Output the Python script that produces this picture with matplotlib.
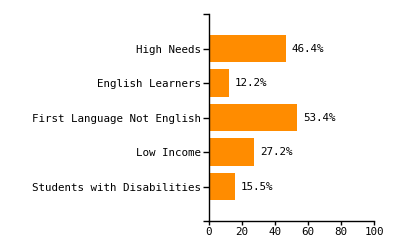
import matplotlib
matplotlib.use("Agg")
import matplotlib.pyplot as plt

categorias = ["High Needs", "English Learners", "First Language Not English",
              "Low Income", "Students with Disabilities"]
valores = [46.4, 12.2, 53.4, 27.2, 15.5]
xticks = [0, 20, 40, 60, 80, 100]

plt.rcParams['font.family'] = ['DejaVu Sans Mono']

fig = plt.figure(figsize=(4, 2.5), dpi=100)
ax = fig.add_axes([0.5225, 0.116, 0.4125, 0.828])

pos = list(range(len(categorias)))
ax.barh(pos, valores, height=0.79, color="#ff8c00")

for p, v in zip(pos, valores):
    ax.text(v + 3.6, p, f"{v}%", va="center", ha="left", fontsize=7.8, color="black")

# ejes estilo d3: ticks extremos sin etiqueta
ax.set_ylim(5, -1)
ax.set_yticks([-1] + pos + [5])
ax.set_yticklabels([""] + categorias + [""], fontsize=7.8)
ax.set_xlim(0, 100)
ax.set_xticks(xticks)
ax.set_xticklabels([str(t) for t in xticks], fontsize=7.8)

ax.spines["top"].set_visible(False)
ax.spines["right"].set_visible(False)
ax.spines["left"].set_linewidth(1)
ax.spines["bottom"].set_linewidth(1)
ax.tick_params(axis="y", length=4, width=1, pad=2)
ax.tick_params(axis="x", length=3, width=1, pad=1)

fig.savefig("out.png", dpi=100)
